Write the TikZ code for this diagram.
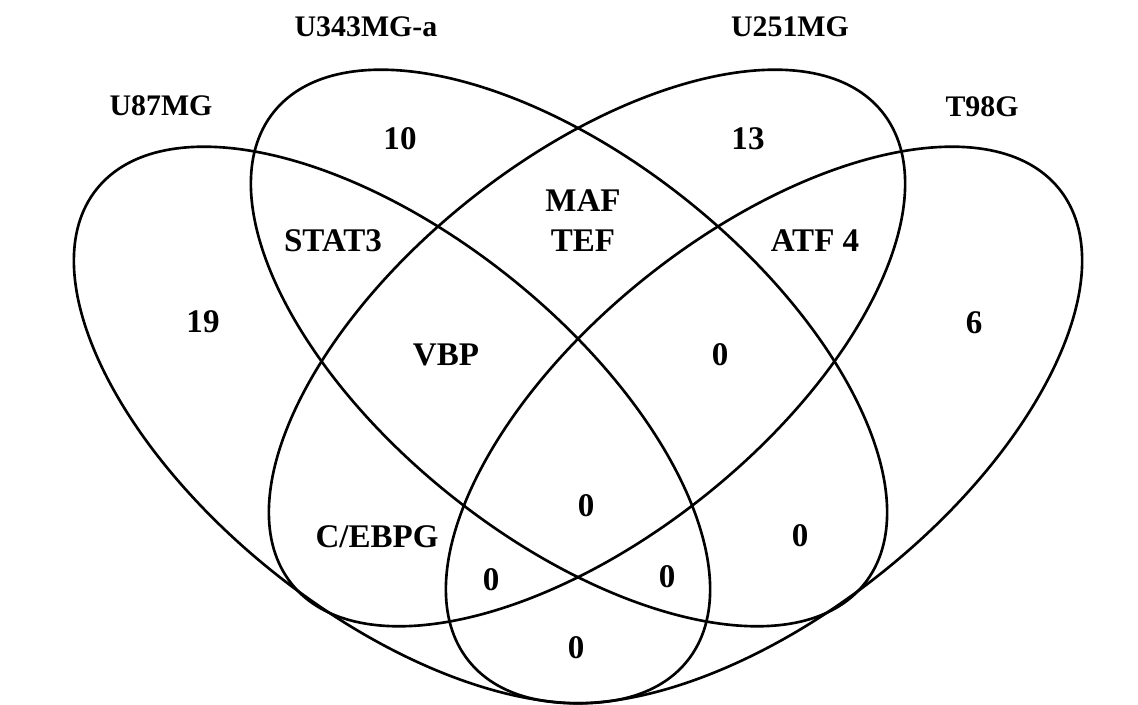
\documentclass[tikz,border=0pt]{standalone}
\usepackage{fontspec}
\setmainfont{Liberation Serif}
\usepackage{tikz}
\usetikzlibrary{positioning}

\begin{document}
\begin{tikzpicture}[
    x=0.02cm, y=0.02cm,
    venn/.style={draw, line width=1.5pt},
    setname/.style={font=\fontsize{17}{20}\selectfont\bfseries, inner sep=0pt},
    region/.style={font=\fontsize{18.8}{22.8}\selectfont\bfseries, inner sep=0pt, align=center}
]
\useasboundingbox (0,0) rectangle (1138,705);

% the four sets
\draw[venn, rotate around={-38.6:(392,280)}] (392,280) ellipse [x radius=378, y radius=189];
\draw[venn, rotate around={-38.6:(569,357)}] (569,357) ellipse [x radius=378, y radius=189];
\draw[venn, rotate around={38.6:(587,357)}] (587,357) ellipse [x radius=378, y radius=189];
\draw[venn, rotate around={38.6:(764,280)}] (764,280) ellipse [x radius=378, y radius=189];

% set names
\node[setname] (u87) at (161,599) {U87MG};
\node[setname] (u343) at (366,678) {U343MG-a};
\node[setname] (u251) at (790,678) {U251MG};
\node[setname] (t98) at (982,598) {T98G};

% region contents
\node[region] (only343) at (400,566) {10};
\node[region] (only251) at (748,566) {13};
\node[region] (stat) at (333,464) {STAT3};
\node[region] (maf) at (583,484) {MAF\\TEF};
\node[region] (atf) at (815,464) {ATF 4};
\node[region] (only87) at (203,383) {19};
\node[region] (vbp) at (446,350) {VBP};
\node[region] (r251t98) at (720,350) {0};
\node[region] (only98) at (974,382) {6};
\node[region] (rall) at (586,199) {0};
\node[region] (cebpg) at (377,168) {C/EBPG};
\node[region] (r343t98) at (800,169) {0};
\node[region] (r87a) at (491,125) {0};
\node[region] (r98a) at (667,128) {0};
\node[region] (r87t98) at (576,57) {0};
\end{tikzpicture}
\end{document}
